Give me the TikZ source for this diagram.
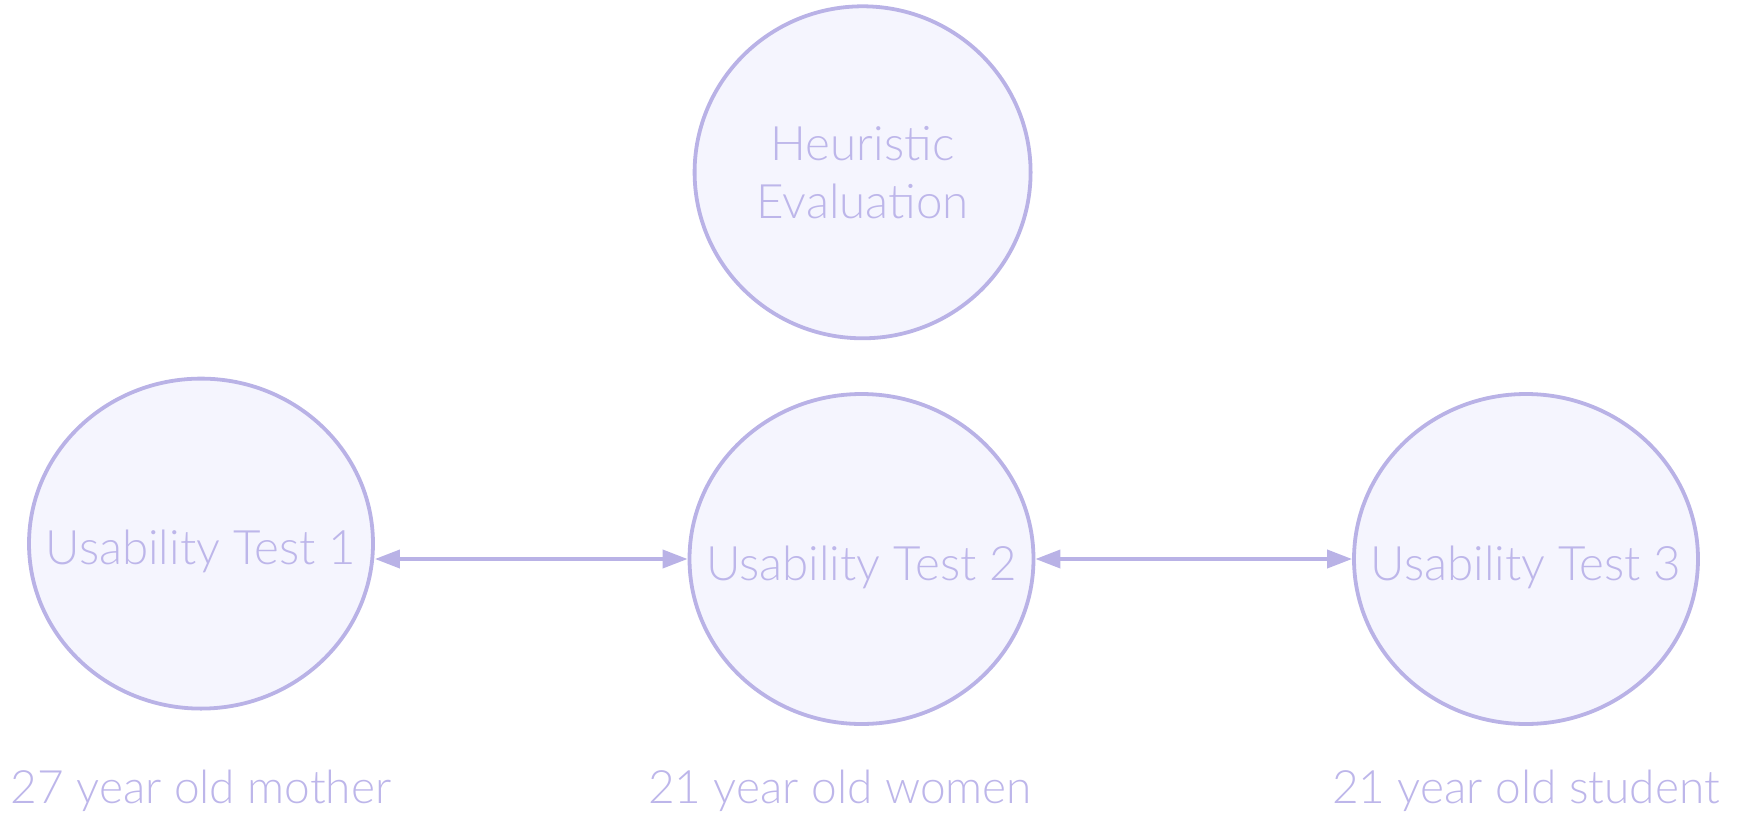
\documentclass[tikz,border=0pt]{standalone}
\usepackage{fontspec}
\setmainfont{Lato}[UprightFont={* Light}]
\usetikzlibrary{shapes.geometric,arrows.meta}
\definecolor{nodeline}{RGB}{185,178,230}
\definecolor{nodefill}{RGB}{245,245,254}
\definecolor{nodetext}{RGB}{189,182,234}
\newcommand{\uttext}[1]{\makebox[0pt]{\raisebox{-21pt}[0pt][0pt]{#1}}}
\begin{document}
\begin{tikzpicture}[x=1pt,y=-1pt]
		\tikzstyle{UT}=[ellipse,draw=nodeline,fill=nodefill,line width=3.8pt,inner sep=0pt,
			minimum width=344pt,minimum height=330pt,text=nodetext,align=center,
			font=\fontsize{47.5}{58}\selectfont]
		\tikzstyle{who}=[anchor=base,text=nodetext,font=\fontsize{46}{56}\selectfont]
		\tikzstyle{link}=[{Triangle[length=25pt,width=18pt]}-{Triangle[length=25pt,width=18pt]},draw=nodeline,line width=3.8pt]
		\useasboundingbox (0,0) rectangle (1743,814);
		\begin{scope}
		\node[UT,minimum width=336pt,minimum height=332pt] (he) at (862.6,172.3) {Heuristic\\Evaluation};
		\node[UT] (ut1) at (201,543.6)  {\uttext{Usability Test 1}};
		\node[UT] (ut2) at (861.5,559)  {\uttext{Usability Test 2}};
		\node[UT] (ut3) at (1526,559)   {\uttext{Usability Test 3}};
		\node[who] (who1) at (201,803)    {27 year old mother};
		\node[who] (who2) at (840,803)    {21 year old women};
		\node[who] (who3) at (1526,803)   {21 year old student};
		\end{scope}
		
		\draw[link] (ut2.west -| ut1.east) -- (ut2.west);
		\draw[link] (ut2.east) -- (ut3.west);
		
		\end{tikzpicture}
\end{document}
